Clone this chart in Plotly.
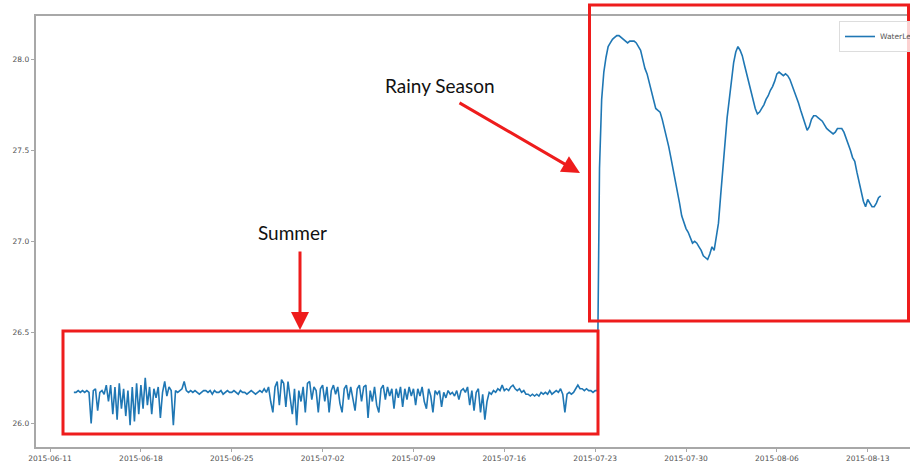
import pandas as pd
import plotly.graph_objects as go

# ---- data (4-hour readings starting 2015-06-12 20:00) ----
series_name = "WaterLevel"
start_time = "2015-06-12 20:00"
step = "4h"

summer_levels = [
    26.17,
    26.17, 26.18, 26.17, 26.18, 26.17, 26.18,  # 06-13
    26.17, 26.00, 26.18, 26.19, 26.07, 26.17,  # 06-14
    26.18, 26.16, 26.21, 26.12, 26.21, 26.05,  # 06-15
    26.20, 26.02, 26.22, 26.08, 26.19, 26.04,  # 06-16
    26.18, 25.99, 26.20, 26.01, 26.22, 26.05,  # 06-17
    26.21, 26.08, 26.25, 26.10, 26.20, 26.05,  # 06-18
    26.19, 26.14, 26.20, 26.03, 26.17, 26.23,  # 06-19
    26.15, 26.20, 26.18, 25.99, 26.18, 26.17,  # 06-20
    26.18, 26.19, 26.23, 26.18, 26.17, 26.18,  # 06-21
    26.17, 26.18, 26.17, 26.16, 26.17, 26.18,  # 06-22
    26.18, 26.17, 26.18, 26.16, 26.18, 26.17,  # 06-23
    26.17, 26.18, 26.16, 26.17, 26.18, 26.17,  # 06-24
    26.17, 26.18, 26.17, 26.16, 26.18, 26.17,  # 06-25
    26.17, 26.16, 26.17, 26.18, 26.17, 26.16,  # 06-26
    26.17, 26.18, 26.17, 26.19, 26.17, 26.20,  # 06-27
    26.12, 26.06, 26.20, 26.23, 26.10, 26.24,  # 06-28
    26.22, 26.09, 26.23, 26.14, 26.05, 26.19,  # 06-29
    25.99, 26.18, 26.12, 26.20, 26.06, 26.22,  # 06-30
    26.23, 26.13, 26.20, 26.18, 26.06, 26.19,  # 07-01
    26.21, 26.12, 26.20, 26.06, 26.18, 26.21,  # 07-02
    26.16, 26.20, 26.11, 26.06, 26.19, 26.21,  # 07-03
    26.13, 26.20, 26.14, 26.07, 26.19, 26.21,  # 07-04
    26.12, 26.20, 26.21, 26.03, 26.18, 26.12,  # 07-05
    26.20, 26.10, 26.06, 26.19, 26.21, 26.13,  # 07-06
    26.20, 26.15, 26.19, 26.08, 26.19, 26.14,  # 07-07
    26.20, 26.09, 26.19, 26.13, 26.20, 26.15,  # 07-08
    26.19, 26.10, 26.19, 26.15, 26.20, 26.12,  # 07-09
    26.08, 26.19, 26.15, 26.06, 26.18, 26.16,  # 07-10
    26.18, 26.09, 26.17, 26.14, 26.18, 26.16,  # 07-11
    26.17, 26.15, 26.18, 26.13, 26.18, 26.19,  # 07-12
    26.17, 26.20, 26.10, 26.18, 26.07, 26.17,  # 07-13
    26.19, 26.06, 26.16, 26.02, 26.12, 26.17,  # 07-14
    26.16, 26.18, 26.17, 26.19, 26.18, 26.21,  # 07-15
    26.18, 26.19, 26.18, 26.20, 26.21, 26.19,  # 07-16
    26.18, 26.19, 26.17, 26.18, 26.16, 26.16,  # 07-17
    26.15, 26.16, 26.15, 26.16, 26.15, 26.17,  # 07-18
    26.16, 26.17, 26.16, 26.18, 26.16, 26.17,  # 07-19
    26.18, 26.17, 26.19, 26.16, 26.06, 26.16,  # 07-20
    26.17, 26.16, 26.17, 26.19, 26.21, 26.19,  # 07-21
    26.19, 26.18, 26.19, 26.18, 26.18, 26.17,  # 07-22
]

rainy_levels = [
    26.18, 26.18, 27.40, 27.78, 27.93, 28.01,  # 07-23
    28.07, 28.09, 28.11, 28.12, 28.13, 28.13,  # 07-24
    28.12, 28.11, 28.10, 28.09, 28.10, 28.10,  # 07-25
    28.10, 28.09, 28.07, 28.05, 28.00, 27.95,  # 07-26
    27.92, 27.87, 27.82, 27.77, 27.73, 27.72,  # 07-27
    27.71, 27.67, 27.62, 27.58, 27.52, 27.46,  # 07-28
    27.40, 27.34, 27.29, 27.21, 27.14, 27.10,  # 07-29
    27.07, 27.05, 27.02, 26.99, 27.00, 26.99,  # 07-30
    26.97, 26.95, 26.92, 26.91, 26.90, 26.93,  # 07-31
    26.97, 26.95, 27.03, 27.10, 27.25, 27.40,  # 08-01
    27.55, 27.68, 27.78, 27.90, 27.98, 28.04,  # 08-02
    28.07, 28.05, 28.02, 27.97, 27.92, 27.87,  # 08-03
    27.83, 27.78, 27.73, 27.70, 27.71, 27.73,  # 08-04
    27.75, 27.78, 27.80, 27.83, 27.85, 27.88,  # 08-05
    27.92, 27.93, 27.92, 27.91, 27.92, 27.91,  # 08-06
    27.89, 27.86, 27.82, 27.79, 27.76, 27.72,  # 08-07
    27.68, 27.64, 27.61, 27.63, 27.67, 27.69,  # 08-08
    27.69, 27.68, 27.67, 27.66, 27.64, 27.62,  # 08-09
    27.61, 27.60, 27.59, 27.60, 27.62, 27.62,  # 08-10
    27.62, 27.60, 27.57, 27.54, 27.50, 27.46,  # 08-11
    27.44, 27.38, 27.33, 27.27, 27.22, 27.19,  # 08-12
    27.23, 27.21, 27.19, 27.19, 27.21, 27.24,  # 08-13
    27.25,                                     # 08-14
]

x_range = ["2015-06-09 22:00", "2015-08-16 06:10"]
y_range = [25.870, 28.238]
tick_start = "2015-06-11"
y_ticks = [26.0, 26.5, 27.0, 27.5, 28.0]

label_summer = "Summer"
label_rainy = "Rainy Season"

levels = summer_levels + rainy_levels
times = pd.date_range(start=start_time, periods=len(levels), freq=step)

# ---- layout helpers (pixel -> paper) ----
W, H = 910, 464
ML, MR, MT, MB = 36, 0, 16, 17
PW, PH = W - ML - MR, H - MT - MB


def px(xp):
    return (xp - ML) / PW


def py(yp):
    return (H - MB - yp) / PH


blue = "#1f77b4"
fig = go.Figure()
fig.add_trace(go.Scatter(
    x=times, y=levels, mode="lines", name=series_name,
    line=dict(color=blue, width=1.6),
    showlegend=True,
))

axis_common = dict(
    showline=True, mirror=True, linecolor="#a8a8a8", linewidth=1.5,
    ticks="outside", ticklen=3.5, tickwidth=1, tickcolor="#a8a8a8",
    showgrid=False, zeroline=False, automargin=False,
    tickfont=dict(family="DejaVu Sans", size=7.5, color="#505050"),
)

fig.update_layout(
    width=W, height=H,
    margin=dict(l=ML, r=MR, t=MT, b=MB, pad=0, autoexpand=False),
    paper_bgcolor="white", plot_bgcolor="white",
    xaxis=dict(range=x_range, tick0=tick_start, dtick=7 * 24 * 3600 * 1000,
               tickformat="%Y-%m-%d", **axis_common),
    yaxis=dict(range=y_range, tickvals=y_ticks,
               ticktext=[f"{v:.1f}" for v in y_ticks], **axis_common),
    legend=dict(x=px(839), y=py(21), xanchor="left", yanchor="top",
                itemwidth=30,
                bgcolor="rgba(255,255,255,0.8)", bordercolor="#dddddd",
                borderwidth=1,
                font=dict(family="DejaVu Sans", size=7.5, color="#555555")),
)

# red highlight boxes
red = "#ee1c1c"
fig.add_shape(type="rect", xref="paper", yref="paper",
              x0=px(63), x1=px(598), y0=py(434), y1=py(331),
              line=dict(color=red, width=3))
fig.add_shape(type="rect", xref="paper", yref="paper",
              x0=px(589.5), x1=px(908.5), y0=py(321), y1=py(5),
              line=dict(color=red, width=3))

# texts
fig.add_annotation(xref="paper", yref="paper", x=px(292), y=py(232),
                   xanchor="center", yanchor="middle",
                   text=label_summer, showarrow=False,
                   font=dict(family="Lato", size=19, color="#111111"))
fig.add_annotation(xref="paper", yref="paper", x=px(440), y=py(86),
                   xanchor="center", yanchor="middle",
                   text=label_rainy, showarrow=False,
                   font=dict(family="Lato", size=19, color="#111111"))

# arrows
fig.add_annotation(xref="paper", yref="paper", x=px(300), y=py(330),
                   ax=0, ay=-80, text="", showarrow=True,
                   arrowhead=2, arrowsize=1.2, arrowwidth=3, arrowcolor=red)
fig.add_annotation(xref="paper", yref="paper", x=px(580), y=py(173),
                   ax=-122, ay=-71, text="", showarrow=True,
                   arrowhead=2, arrowsize=1.2, arrowwidth=3, arrowcolor=red)

fig.write_html(
    "out.html",
    config={"displayModeBar": False},
    post_script="document.body.style.margin='0';"
                "document.body.style.overflow='hidden';",
)
